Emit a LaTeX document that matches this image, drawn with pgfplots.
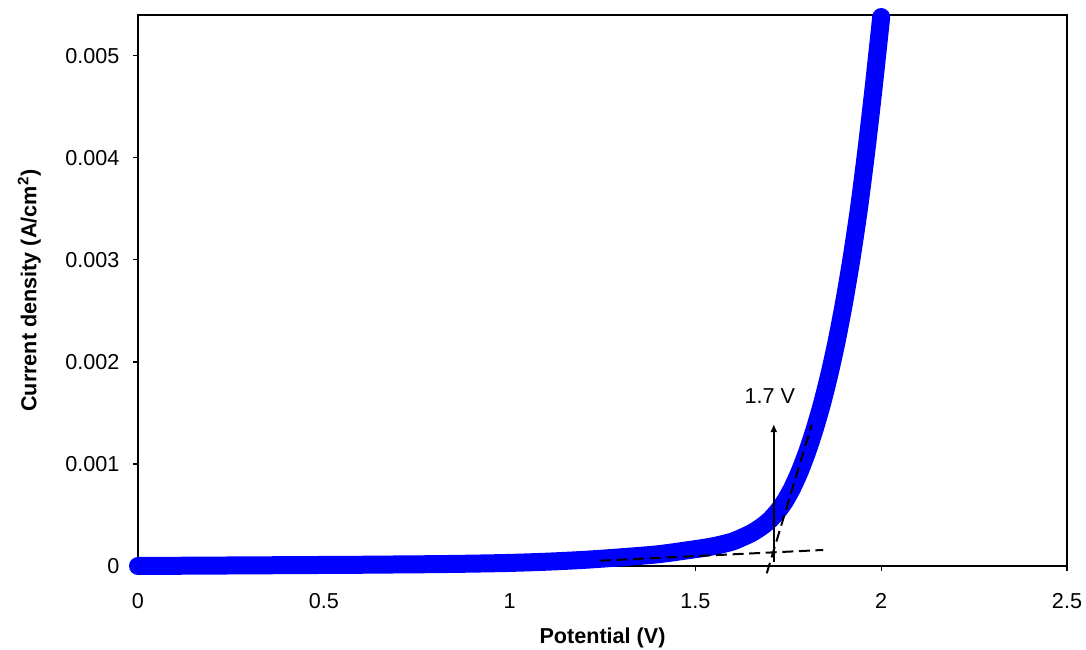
\documentclass[border=0pt]{standalone}
\usepackage{fontspec}
\setmainfont{Liberation Sans}
\usepackage{pgfplots}
\pgfplotsset{compat=1.18}
\usetikzlibrary{arrows.meta}

% Polarisation curve: current density vs applied potential
\pgfplotstableread{
V      J
0.00   0.000000
0.10   0.000002
0.20   0.000004
0.30   0.000006
0.40   0.000008
0.50   0.000010
0.60   0.000012
0.70   0.000015
0.80   0.000018
0.90   0.000023
1.00   0.000030
1.10   0.000042
1.20   0.000060
1.30   0.000085
1.40   0.000115
1.50   0.000165
1.55   0.000195
1.60   0.000240
1.65   0.000320
1.68   0.000390
1.70   0.000450
1.72   0.000530
1.74   0.000630
1.76   0.000760
1.78   0.000920
1.80   0.001110
1.82   0.001330
1.84   0.001580
1.86   0.001870
1.88   0.002200
1.90   0.002580
1.92   0.003010
1.94   0.003500
1.96   0.004070
1.98   0.004700
2.00   0.005380
}\curve

\begin{document}
\fontsize{10.8}{13}\selectfont
\begin{tikzpicture}
\begin{axis}[
  scale only axis,
  width=464.5pt, height=275.5pt,
  xmin=0, xmax=2.5,
  ymin=0, ymax=0.0054,
  clip=false,
  axis line style={line width=1pt},
  tick style={line width=0.6pt, black},
  major tick length=2.5pt,
  tick align=outside,
  xtick pos=bottom, ytick pos=left,
  xtick={0,0.5,1,1.5,2,2.5},
  xticklabels={0,0.5,1,1.5,2,2.5},
  ytick={0,0.001,0.002,0.003,0.004,0.005},
  yticklabels={0,0.001,0.002,0.003,0.004,0.005},
  scaled y ticks=false,
  scaled x ticks=false,
  ticklabel style={font=\fontsize{10.8}{13}\selectfont},
  xticklabel style={yshift=-7.5pt},
  yticklabel style={xshift=-3pt},
  xlabel={\textbf{Potential (V)}},
  ylabel={\textbf{Current density (A/cm\textsuperscript{2})}},
  label style={font=\fontsize{10.8}{13}\selectfont},
  xlabel style={at={(axis description cs:0.5,-0.13)}, anchor=center},
  ylabel style={at={(axis description cs:-0.117,0.5)}, anchor=center},
]
\addplot[color={rgb,255:red,0;green,0;blue,255}, line width=9pt, line cap=round, line join=round, smooth, tension=0.4] table[x=V,y=J] {\curve};
% tangent lines
\addplot[black, line width=1pt, dash pattern=on 5.5pt off 2.8pt] coordinates {(1.243,0.000052) (1.844,0.000157)};
\addplot[black, line width=1pt, dash pattern=on 5.5pt off 2.8pt] coordinates {(1.692,-0.000072) (1.813,0.001385)};
% onset marker
\addplot[black, line width=0.7pt, -{Latex[length=4pt,width=3.5pt]}] coordinates {(1.711,0.00004) (1.711,0.00139)};
\node at (axis cs:1.70,0.00167) {1.7 V};
\end{axis}
\pgfresetboundingbox
\path (current axis.south west) ++(-69pt,-42pt) coordinate (bbA);
\path (current axis.north east) ++(9.5pt,7.5pt) coordinate (bbB);
\useasboundingbox (bbA) rectangle (bbB);
\end{tikzpicture}
\end{document}
